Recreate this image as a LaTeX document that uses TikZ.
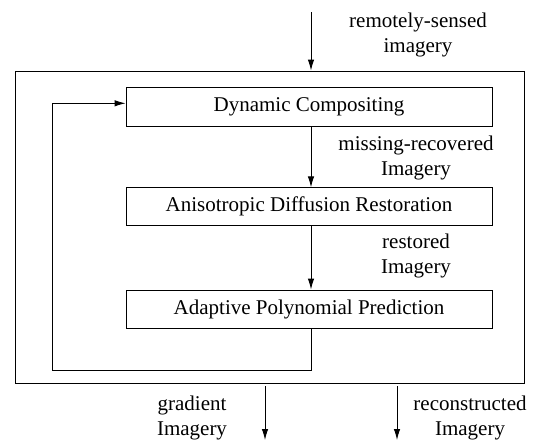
\documentclass[tikz,border=0pt]{standalone}
\usepackage{fontspec}
\setmainfont{Liberation Serif}
\usetikzlibrary{arrows.meta}
\tikzset{
  stage/.style = {draw, minimum width=366pt, minimum height=38pt, inner sep=0pt},
  note/.style = {align=center, inner sep=0pt},
  flow/.style = {-{Latex[length=11pt,width=6.5pt]}}
}
\begin{document}
\begin{tikzpicture}[x=1pt, y=-1pt, line width=0.9pt, font=\fontsize{21}{25.5}\selectfont]
                  \useasboundingbox (0,0) rectangle (534,440);
                  \node[draw, minimum width=509pt, minimum height=312pt, inner sep=0pt] (frame) at (269.5,227) {};
                  \node[stage, minimum height=39.5pt] (dc) at (309,106.8) {Dynamic Compositing};
                  \node[stage] (adr) at (309,206.8) {Anisotropic Diffusion Restoration};
                  \node[stage] (app) at (309,309) {Adaptive Polynomial Prediction};
                  \coordinate (src) at (311,12);
                  \coordinate (fb) at (52,370);
                  \coordinate (grad) at (265,440);
                  \coordinate (rec) at (397,440);
                  \draw[flow] (src) -- (frame.north -| src);
                  \draw[flow] (dc.south -| src) -- (adr.north -| src);
                  \draw[flow] (adr.south -| src) -- (app.north -| src);
                  \draw (app.south -| src) |- (fb);
                  \draw[flow] (fb) |- ([yshift=3.5pt]dc.west);
                  \draw[flow] (frame.south -| grad) ++(0,3) -- (grad);
                  \draw[flow] (frame.south -| rec) ++(0,3) -- (rec);
                  \node[note] (srclbl) at (418,35) {remotely-sensed\\imagery};
                  \node[note] (mrlbl) at (416,158) {missing-recovered\\Imagery};
                  \node[note] (rslbl) at (416,256) {restored\\Imagery};
                  \node[note] (grlbl) at (192,418) {gradient\\Imagery};
                  \node[note] (rclbl) at (470,418) {reconstructed\\Imagery};
              \end{tikzpicture}
\end{document}
